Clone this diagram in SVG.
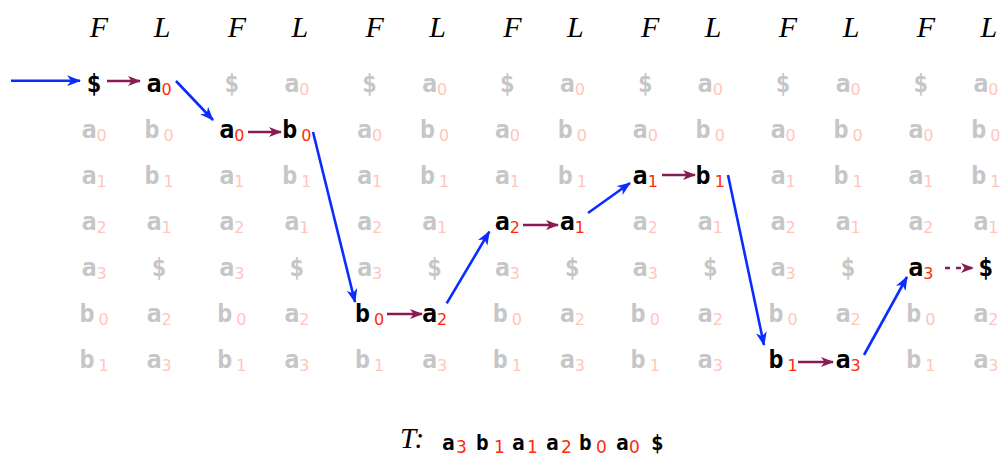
<svg xmlns="http://www.w3.org/2000/svg" width="1003" height="456" viewBox="0 0 1003 456">
<defs>
<style>
.hd{font-family:"Liberation Serif",serif;font-style:italic;font-size:30px;fill:#000;text-anchor:middle}
.c{font-family:"DejaVu Sans Mono",monospace;font-weight:bold;font-size:25px;text-anchor:middle}
.g{fill:#c6c6c6}
.gs{fill:#ffc6bc;font-family:"DejaVu Sans",sans-serif;font-weight:normal;font-size:16px}
.k{fill:#000}
.ks{fill:#ff2a0a;font-family:"DejaVu Sans",sans-serif;font-weight:normal;font-size:16px}
.bl{stroke:#0a2cff;stroke-width:2.6;fill:none}
.mr{stroke:#8a1a55;stroke-width:2.6;fill:none}
.tm{font-family:"DejaVu Sans Mono",monospace;font-weight:bold;font-size:21px;fill:#000}
.tms{fill:#ff2a0a;font-family:"DejaVu Sans",sans-serif;font-weight:normal;font-size:17px}
</style>
<marker id="ab" viewBox="0 0 14 11" markerWidth="14" markerHeight="11" refX="13" refY="5.5" orient="auto" markerUnits="userSpaceOnUse"><path d="M0,0 L14,5.5 L0,11 L4,5.5 Z" fill="#0a2cff"/></marker>
<marker id="am" viewBox="0 0 13 10" markerWidth="13" markerHeight="10" refX="12" refY="5" orient="auto" markerUnits="userSpaceOnUse"><path d="M0,0 L13,5 L0,10 L3.5,5 Z" fill="#8a1a55"/></marker>
</defs>
<rect width="1003" height="456" fill="#fff"/>

<g id="headers">
<text class="hd" x="99" y="37">F</text><text class="hd" x="162" y="37">L</text>
<text class="hd" x="236.8" y="37">F</text><text class="hd" x="299.8" y="37">L</text>
<text class="hd" x="374.6" y="37">F</text><text class="hd" x="437.6" y="37">L</text>
<text class="hd" x="512.4" y="37">F</text><text class="hd" x="575.4" y="37">L</text>
<text class="hd" x="650.2" y="37">F</text><text class="hd" x="713.2" y="37">L</text>
<text class="hd" x="788" y="37">F</text><text class="hd" x="851" y="37">L</text>
<text class="hd" x="925.8" y="37">F</text><text class="hd" x="988.8" y="37">L</text>
</g>

<g id="table-grey" class="c g">
<text x="94" y="138">a<tspan class="gs" dy="3">0</tspan></text>
<text x="94" y="184">a<tspan class="gs" dy="3">1</tspan></text>
<text x="94" y="230">a<tspan class="gs" dy="3">2</tspan></text>
<text x="94" y="276">a<tspan class="gs" dy="3">3</tspan></text>
<text x="94" y="322">b<tspan class="gs" dx="4" dy="3">0</tspan></text>
<text x="94" y="368">b<tspan class="gs" dx="4" dy="3">1</tspan></text>
<text x="159" y="138">b<tspan class="gs" dx="4" dy="3">0</tspan></text>
<text x="159" y="184">b<tspan class="gs" dx="4" dy="3">1</tspan></text>
<text x="159" y="230">a<tspan class="gs" dy="3">1</tspan></text>
<text x="159" y="276">$</text>
<text x="159" y="322">a<tspan class="gs" dy="3">2</tspan></text>
<text x="159" y="368">a<tspan class="gs" dy="3">3</tspan></text>
<text x="231.8" y="92">$</text>
<text x="231.8" y="184">a<tspan class="gs" dy="3">1</tspan></text>
<text x="231.8" y="230">a<tspan class="gs" dy="3">2</tspan></text>
<text x="231.8" y="276">a<tspan class="gs" dy="3">3</tspan></text>
<text x="231.8" y="322">b<tspan class="gs" dx="4" dy="3">0</tspan></text>
<text x="231.8" y="368">b<tspan class="gs" dx="4" dy="3">1</tspan></text>
<text x="296.8" y="92">a<tspan class="gs" dy="3">0</tspan></text>
<text x="296.8" y="184">b<tspan class="gs" dx="4" dy="3">1</tspan></text>
<text x="296.8" y="230">a<tspan class="gs" dy="3">1</tspan></text>
<text x="296.8" y="276">$</text>
<text x="296.8" y="322">a<tspan class="gs" dy="3">2</tspan></text>
<text x="296.8" y="368">a<tspan class="gs" dy="3">3</tspan></text>
<text x="369.6" y="92">$</text>
<text x="369.6" y="138">a<tspan class="gs" dy="3">0</tspan></text>
<text x="369.6" y="184">a<tspan class="gs" dy="3">1</tspan></text>
<text x="369.6" y="230">a<tspan class="gs" dy="3">2</tspan></text>
<text x="369.6" y="276">a<tspan class="gs" dy="3">3</tspan></text>
<text x="369.6" y="368">b<tspan class="gs" dx="4" dy="3">1</tspan></text>
<text x="434.6" y="92">a<tspan class="gs" dy="3">0</tspan></text>
<text x="434.6" y="138">b<tspan class="gs" dx="4" dy="3">0</tspan></text>
<text x="434.6" y="184">b<tspan class="gs" dx="4" dy="3">1</tspan></text>
<text x="434.6" y="230">a<tspan class="gs" dy="3">1</tspan></text>
<text x="434.6" y="276">$</text>
<text x="434.6" y="368">a<tspan class="gs" dy="3">3</tspan></text>
<text x="507.4" y="92">$</text>
<text x="507.4" y="138">a<tspan class="gs" dy="3">0</tspan></text>
<text x="507.4" y="184">a<tspan class="gs" dy="3">1</tspan></text>
<text x="507.4" y="276">a<tspan class="gs" dy="3">3</tspan></text>
<text x="507.4" y="322">b<tspan class="gs" dx="4" dy="3">0</tspan></text>
<text x="507.4" y="368">b<tspan class="gs" dx="4" dy="3">1</tspan></text>
<text x="572.4" y="92">a<tspan class="gs" dy="3">0</tspan></text>
<text x="572.4" y="138">b<tspan class="gs" dx="4" dy="3">0</tspan></text>
<text x="572.4" y="184">b<tspan class="gs" dx="4" dy="3">1</tspan></text>
<text x="572.4" y="276">$</text>
<text x="572.4" y="322">a<tspan class="gs" dy="3">2</tspan></text>
<text x="572.4" y="368">a<tspan class="gs" dy="3">3</tspan></text>
<text x="645.2" y="92">$</text>
<text x="645.2" y="138">a<tspan class="gs" dy="3">0</tspan></text>
<text x="645.2" y="230">a<tspan class="gs" dy="3">2</tspan></text>
<text x="645.2" y="276">a<tspan class="gs" dy="3">3</tspan></text>
<text x="645.2" y="322">b<tspan class="gs" dx="4" dy="3">0</tspan></text>
<text x="645.2" y="368">b<tspan class="gs" dx="4" dy="3">1</tspan></text>
<text x="710.2" y="92">a<tspan class="gs" dy="3">0</tspan></text>
<text x="710.2" y="138">b<tspan class="gs" dx="4" dy="3">0</tspan></text>
<text x="710.2" y="230">a<tspan class="gs" dy="3">1</tspan></text>
<text x="710.2" y="276">$</text>
<text x="710.2" y="322">a<tspan class="gs" dy="3">2</tspan></text>
<text x="710.2" y="368">a<tspan class="gs" dy="3">3</tspan></text>
<text x="783" y="92">$</text>
<text x="783" y="138">a<tspan class="gs" dy="3">0</tspan></text>
<text x="783" y="184">a<tspan class="gs" dy="3">1</tspan></text>
<text x="783" y="230">a<tspan class="gs" dy="3">2</tspan></text>
<text x="783" y="276">a<tspan class="gs" dy="3">3</tspan></text>
<text x="783" y="322">b<tspan class="gs" dx="4" dy="3">0</tspan></text>
<text x="848" y="92">a<tspan class="gs" dy="3">0</tspan></text>
<text x="848" y="138">b<tspan class="gs" dx="4" dy="3">0</tspan></text>
<text x="848" y="184">b<tspan class="gs" dx="4" dy="3">1</tspan></text>
<text x="848" y="230">a<tspan class="gs" dy="3">1</tspan></text>
<text x="848" y="276">$</text>
<text x="848" y="322">a<tspan class="gs" dy="3">2</tspan></text>
<text x="920.8" y="92">$</text>
<text x="920.8" y="138">a<tspan class="gs" dy="3">0</tspan></text>
<text x="920.8" y="184">a<tspan class="gs" dy="3">1</tspan></text>
<text x="920.8" y="230">a<tspan class="gs" dy="3">2</tspan></text>
<text x="920.8" y="322">b<tspan class="gs" dx="4" dy="3">0</tspan></text>
<text x="920.8" y="368">b<tspan class="gs" dx="4" dy="3">1</tspan></text>
<text x="985.8" y="92">a<tspan class="gs" dy="3">0</tspan></text>
<text x="985.8" y="138">b<tspan class="gs" dx="4" dy="3">0</tspan></text>
<text x="985.8" y="184">b<tspan class="gs" dx="4" dy="3">1</tspan></text>
<text x="985.8" y="230">a<tspan class="gs" dy="3">1</tspan></text>
<text x="985.8" y="322">a<tspan class="gs" dy="3">2</tspan></text>
<text x="985.8" y="368">a<tspan class="gs" dy="3">3</tspan></text>
</g>

<g id="n0F" class="c k"><text x="94" y="92">$</text></g>
<g id="n0L" class="c k"><text x="159" y="92">a<tspan class="ks" dy="3">0</tspan></text></g>
<g id="n1F" class="c k"><text x="231.8" y="138">a<tspan class="ks" dy="3">0</tspan></text></g>
<g id="n1L" class="c k"><text x="296.8" y="138">b<tspan class="ks" dx="4" dy="3">0</tspan></text></g>
<g id="n2F" class="c k"><text x="369.6" y="322">b<tspan class="ks" dx="4" dy="3">0</tspan></text></g>
<g id="n2L" class="c k"><text x="434.6" y="322">a<tspan class="ks" dy="3">2</tspan></text></g>
<g id="n3F" class="c k"><text x="507.4" y="230">a<tspan class="ks" dy="3">2</tspan></text></g>
<g id="n3L" class="c k"><text x="572.4" y="230">a<tspan class="ks" dy="3">1</tspan></text></g>
<g id="n4F" class="c k"><text x="645.2" y="184">a<tspan class="ks" dy="3">1</tspan></text></g>
<g id="n4L" class="c k"><text x="710.2" y="184">b<tspan class="ks" dx="4" dy="3">1</tspan></text></g>
<g id="n5F" class="c k"><text x="783" y="368">b<tspan class="ks" dx="4" dy="3">1</tspan></text></g>
<g id="n5L" class="c k"><text x="848" y="368">a<tspan class="ks" dy="3">3</tspan></text></g>
<g id="n6F" class="c k"><text x="920.8" y="276">a<tspan class="ks" dy="3">3</tspan></text></g>
<g id="n6L" class="c k"><text x="985.8" y="276">$</text></g>

<g id="connectors">
<line class="bl" x1="11" y1="80.7" x2="80" y2="80.7" marker-end="url(#ab)"/>
<line class="bl" x1="176" y1="81" x2="213" y2="120" marker-end="url(#ab)"/>
<line class="bl" x1="313" y1="132" x2="355" y2="302" marker-end="url(#ab)"/>
<line class="bl" x1="446.7" y1="303.3" x2="489.3" y2="231.7" marker-end="url(#ab)"/>
<line class="bl" x1="588" y1="213" x2="630" y2="183" marker-end="url(#ab)"/>
<line class="bl" x1="728" y1="175" x2="764" y2="345" marker-end="url(#ab)"/>
<line class="bl" x1="864" y1="355" x2="907" y2="277" marker-end="url(#ab)"/>
<line class="mr" x1="107" y1="81" x2="140" y2="81" marker-end="url(#am)"/>
<line class="mr" x1="248" y1="132" x2="281" y2="132" marker-end="url(#am)"/>
<line class="mr" x1="387" y1="314" x2="422" y2="314" marker-end="url(#am)"/>
<line class="mr" x1="523" y1="225" x2="558" y2="225" marker-end="url(#am)"/>
<line class="mr" x1="662" y1="175" x2="695" y2="175" marker-end="url(#am)"/>
<line class="mr" x1="798" y1="362" x2="833" y2="362" marker-end="url(#am)"/>
<line class="mr" x1="945" y1="268" x2="973" y2="268" stroke-dasharray="5 6" marker-end="url(#am)"/>
</g>

<g id="caption">
<text class="hd" x="400" y="448" style="text-anchor:start;font-size:29px">T:</text>
<text class="tm" y="450"><tspan x="442">a</tspan><tspan class="tms" x="456" y="453">3</tspan><tspan x="476" y="450">b</tspan><tspan class="tms" x="494" y="453">1</tspan><tspan x="512" y="450">a</tspan><tspan class="tms" x="527" y="453">1</tspan><tspan x="546" y="450">a</tspan><tspan class="tms" x="561" y="453">2</tspan><tspan x="579" y="450">b</tspan><tspan class="tms" x="596" y="453">0</tspan><tspan x="616" y="450">a</tspan><tspan class="tms" x="629" y="453">0</tspan><tspan x="651" y="450">$</tspan></text>
</g>
</svg>
